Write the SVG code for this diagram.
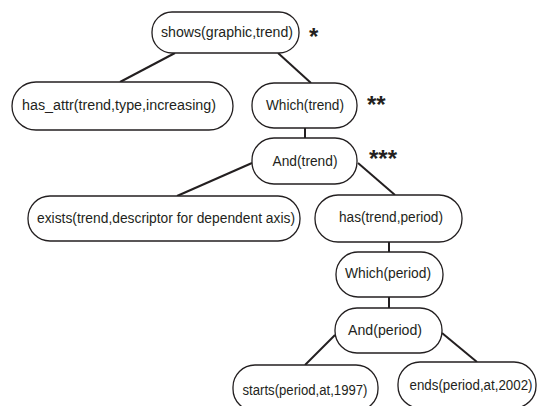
<svg xmlns="http://www.w3.org/2000/svg" width="538" height="406" viewBox="0 0 538 406">
<style>
.n rect{fill:#fff;stroke:#231f20;stroke-width:1.3}
.n text{font-family:"Liberation Sans",Arial,sans-serif;font-size:14px;fill:#231f20;text-anchor:middle}
.e line{stroke:#231f20;stroke-width:2}
.s{font-family:"Liberation Sans",Arial,sans-serif;font-weight:bold;font-size:24px;fill:#231f20}
</style>
<rect width="538" height="406" fill="#fff"/>
<g class="e" id="connectors">
<line x1="175" y1="53" x2="120" y2="82"/>
<line x1="278" y1="53" x2="311" y2="83"/>
<line x1="305" y1="128" x2="305" y2="138"/>
<line x1="252" y1="163" x2="177" y2="196"/>
<line x1="358" y1="163" x2="395" y2="195"/>
<line x1="389" y1="242" x2="389" y2="252"/>
<line x1="389" y1="297" x2="389" y2="308"/>
<line x1="335" y1="335" x2="305" y2="365"/>
<line x1="442" y1="333" x2="477" y2="362"/>
</g>
<g class="n" id="shows"><rect x="152" y="12" width="147" height="41" rx="20"/><text x="227" y="37" textLength="132" lengthAdjust="spacingAndGlyphs">shows(graphic,trend)</text></g>
<g class="n" id="has_attr"><rect x="12" y="82" width="221" height="48" rx="24"/><text x="119" y="110" textLength="194" lengthAdjust="spacingAndGlyphs">has_attr(trend,type,increasing)</text></g>
<g class="n" id="which_trend"><rect x="252" y="83" width="105" height="45" rx="22"/><text x="305" y="110" textLength="78" lengthAdjust="spacingAndGlyphs">Which(trend)</text></g>
<g class="n" id="and_trend"><rect x="252" y="138" width="105" height="46" rx="22"/><text x="305" y="166" textLength="65" lengthAdjust="spacingAndGlyphs">And(trend)</text></g>
<g class="n" id="exists"><rect x="28" y="196" width="272" height="45" rx="22"/><text x="166" y="223" textLength="258" lengthAdjust="spacingAndGlyphs">exists(trend,descriptor for dependent axis)</text></g>
<g class="n" id="has_period"><rect x="315" y="195" width="147" height="47" rx="23"/><text x="391" y="222" textLength="104" lengthAdjust="spacingAndGlyphs">has(trend,period)</text></g>
<g class="n" id="which_period"><rect x="336" y="252" width="107" height="45" rx="22"/><text x="388" y="278" textLength="86" lengthAdjust="spacingAndGlyphs">Which(period)</text></g>
<g class="n" id="and_period"><rect x="335" y="308" width="107" height="45" rx="22"/><text x="385" y="335" textLength="74" lengthAdjust="spacingAndGlyphs">And(period)</text></g>
<g class="n" id="starts"><rect x="233" y="365" width="145" height="46" rx="22"/><text x="305" y="395" textLength="125" lengthAdjust="spacingAndGlyphs">starts(period,at,1997)</text></g>
<g class="n" id="ends"><rect x="398" y="362" width="138" height="46" rx="22"/><text x="471" y="390" textLength="123" lengthAdjust="spacingAndGlyphs">ends(period,at,2002)</text></g>
<g id="stars">
<text class="s" x="309" y="45">*</text>
<text class="s" x="367" y="113">**</text>
<text class="s" x="369" y="167">***</text>
</g>
</svg>
